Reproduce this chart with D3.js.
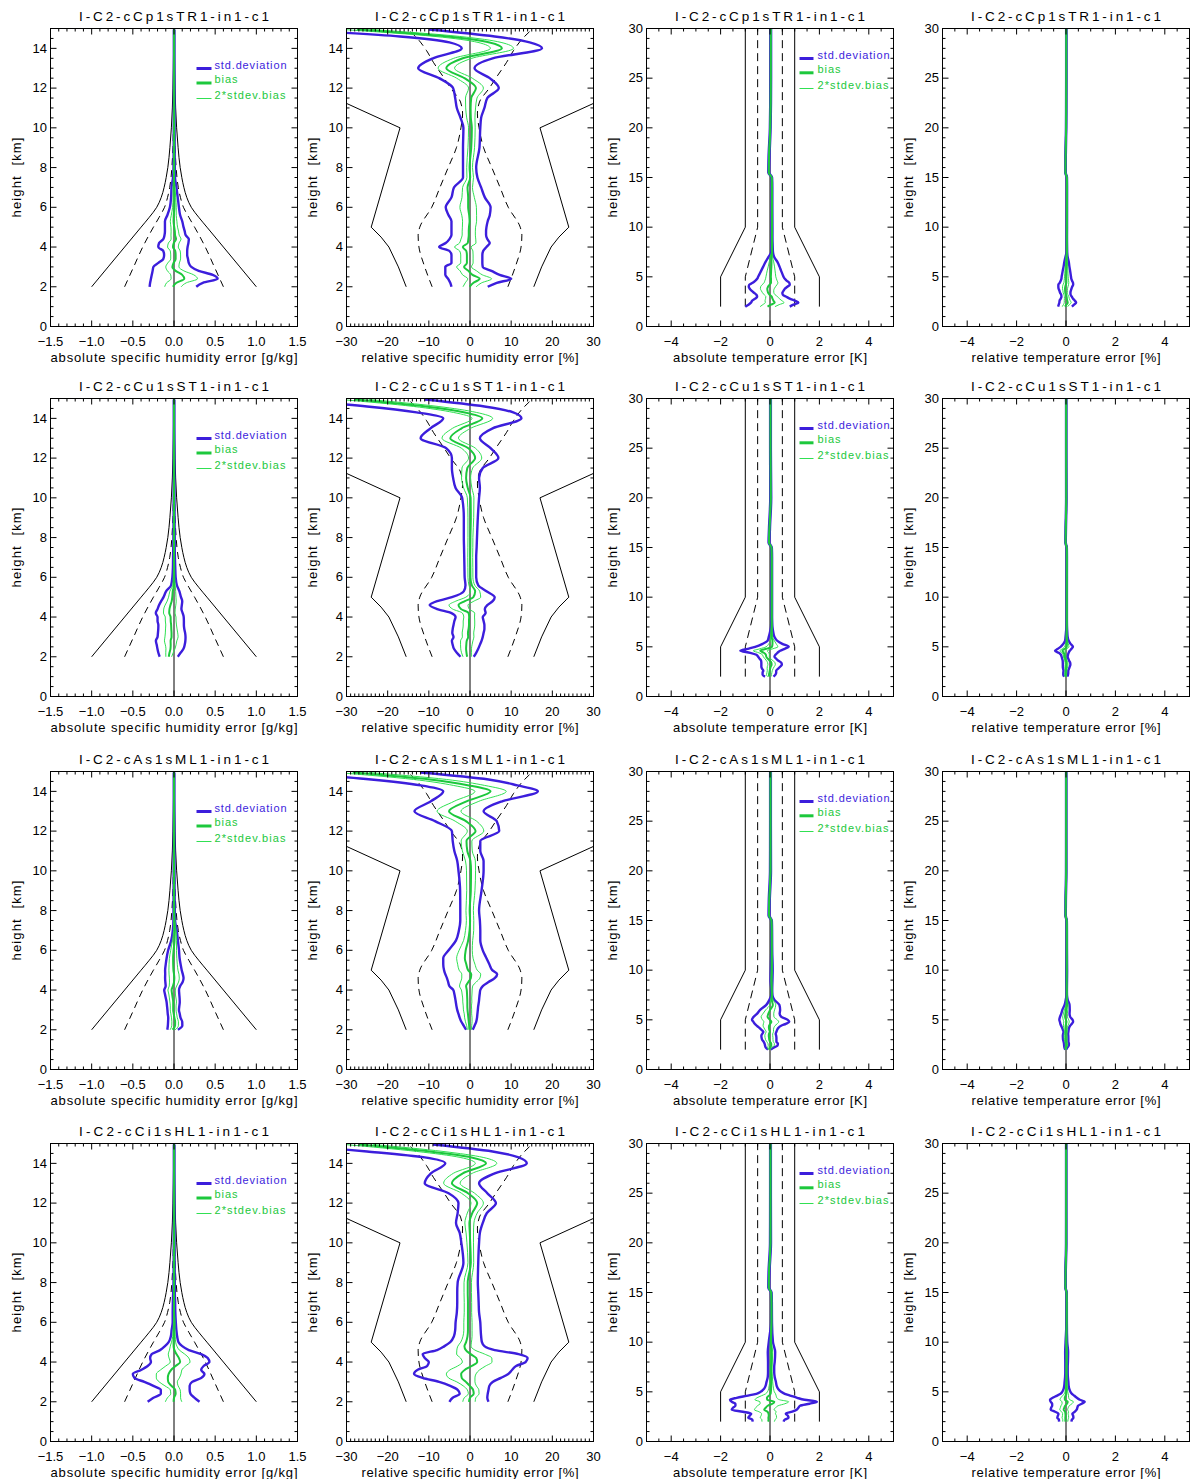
<!DOCTYPE html>
<html>
<head>
<meta charset="utf-8">
<script src="https://cdn.jsdelivr.net/npm/d3@7/dist/d3.min.js"></script>
<style>
html,body{margin:0;padding:0;background:#fff;}
svg{display:block;}
</style>
</head>
<body>
<svg id="chart" width="1190" height="1479"></svg>
<script>
// ================= categories / labels =================
const rowTitles = ["I-C2-cCp1sTR1-in1-c1","I-C2-cCu1sST1-in1-c1","I-C2-cAs1sML1-in1-c1","I-C2-cCi1sHL1-in1-c1"];
const xTitles = ["absolute specific humidity error [g/kg]","relative specific humidity error [%]","absolute temperature error [K]","relative temperature error [%]"];
const yTitle = "height  [km]";
const legendLabels = ["std.deviation","bias","2*stdev.bias"];

// ================= tick labels =================
const xTicksQabs = [-1.5,-1.0,-0.5,0,0.5,1.0,1.5];
const xTicksQrel = [-30,-20,-10,0,10,20,30];
const xTicksT = [-4,-2,0,2,4];
const yTicksQ = [0,2,4,6,8,10,12,14];
const yTicksT = [0,5,10,15,20,25,30];

// ================= height grids (km) =================
const HQ = [2.0,2.2,2.4,2.6,2.8,3.0,3.2,3.4,3.6,3.8,4.0,4.2,4.4,4.6,4.8,5.0,5.3,5.6,6.0,6.5,7.0,7.5,8.0,9.0,10.0,10.5,11.0,11.5,12.0,12.5,13.0,13.5,14.0,14.3,14.6,14.95];
const HT = [2.0,2.2,2.4,2.6,2.8,3.0,3.2,3.4,3.6,3.8,4.0,4.2,4.4,4.6,4.8,5.0,5.3,5.6,6.0,6.5,7.0,7.5,8.0,9.0,10.0,12.0,14.0,15.0,15.5,17.0,20.0,25.0,30.0];

// ================= reference (requirement) curves =================
const qAbsSolidH = [2,3,4,5,5.5,6,6.5,7,7.5,8,9,10,11,12,13,14,15];
const qAbsSolidX = [1.0,0.8,0.6,0.4,0.3,0.21,0.155,0.12,0.095,0.075,0.05,0.032,0.02,0.013,0.008,0.005,0.003];
const qAbsDashH = [2,3,4,5,5.5,6,6.5,7,7.5,8,9,10,11,12,15];
const qAbsDashX = [0.6,0.49,0.38,0.25,0.18,0.115,0.078,0.052,0.036,0.026,0.013,0.007,0.004,0.002,0.001];
const qRelSolidH = [2,3,4,4.5,5,10,11.23,12];
const qRelSolidX = [15.5,17.4,19.7,21.6,24,17,30,35.5];
const qRelDashH = [2,3,4,4.6,5,6,7,8,9,10,10.7,11.3,12,12.6,13.3,13.9,14.5,15];
const qRelDashX = [9.2,11.0,12.4,12.6,12.2,9.3,7.3,5.3,3.3,2.2,1.8,2.3,4.7,6.6,8.9,10.6,12.8,15.3];
const tAbsSolidH = [2,5,10,30];
const tAbsSolidX = [2,2,1,1];
const tAbsDashH = [2,5,10,30];
const tAbsDashX = [1,1,0.5,0.5];

// ================= row 1: cCp1sTR1 =================
const cpQabsBias = [-0.013,0.03,0.125,0.10,0.02,-0.02,-0.005,0.02,0.02,0.015,-0.013,-0.003,0.025,0.013,0.01,0.003,-0.005,-0.003,0.005,0.005,0,0,0.002,0.002,0.002,0.002,0.002,0.002,0.002,0.002,0.002,0.002,0.002,0.002,0.002,0.002];
const cpQabsStd = [0.283,0.32,0.405,0.37,0.28,0.23,0.185,0.15,0.14,0.145,0.178,0.178,0.155,0.128,0.12,0.113,0.105,0.078,0.055,0.04,0.03,0.012,0.008,0.006,0.005,0.005,0.004,0.004,0.004,0.004,0.004,0.004,0.004,0.004,0.004,0.004];
const cpQabsSdb2 = [0.10,0.12,0.16,0.14,0.10,0.08,0.07,0.06,0.06,0.06,0.065,0.065,0.06,0.05,0.045,0.04,0.04,0.03,0.022,0.016,0.012,0.005,0.003,0.003,0.002,0.002,0.002,0.002,0.002,0.002,0.002,0.002,0.002,0.002,0.002,0.002];
const cpQrelBias = [-0.1,0.85,2.35,0.6,-0.4,-1.45,-0.75,-0.75,-0.75,-0.9,-1.75,-0.55,-0.4,-0.3,-0.3,-0.25,-0.1,-0.2,-0.45,-0.45,-0.6,0.05,-0.1,0.3,0.45,0.2,0.15,0.3,1.45,-1.35,-5.75,-1.75,7.75,4.75,-5.5,-27.5];
const cpQrelStd = [4.4,5.65,7.65,6.6,5.6,4.55,3.75,3.75,3.75,4.1,5.75,5.35,4.6,4.2,4.2,4.25,4.4,5.0,5.45,4.05,3.3,1.75,1.6,2.0,2.05,2.5,3.35,3.9,5.55,6.15,6.85,7.25,9.75,9.75,11.5,17.5];
const cpQrelSdb2 = [1.6,2.0,2.9,2.4,2.0,1.8,1.5,1.5,1.5,1.6,2.0,2.0,1.8,1.6,1.6,1.6,1.7,1.8,2.0,1.5,1.2,0.8,0.7,0.8,0.8,1.0,1.2,1.4,1.8,1.9,2.0,2.2,2.8,2.8,3.0,3.5];
const cpTabsBias = [-0.1,0.04,0.19,0.14,0.1,0.07,-0.015,-0.075,-0.1,-0.11,-0.08,-0.02,0.04,0.04,0.04,0.035,0.04,0.045,0.055,0.06,0.055,0.085,0.085,0.08,0.08,0.08,0.08,0.07,-0.05,-0.04,0.01,0.03,0.03];
const cpTabsStd = [0.9,0.91,0.96,0.86,0.7,0.59,0.535,0.575,0.65,0.71,0.78,0.82,0.74,0.64,0.56,0.515,0.46,0.405,0.335,0.24,0.115,0.035,0.025,0.02,0.02,0.015,0.015,0.015,0.02,0.02,0.015,0.015,0.015];
const cpTabsSdb2 = [0.3,0.33,0.38,0.34,0.28,0.24,0.22,0.23,0.25,0.28,0.3,0.3,0.28,0.25,0.22,0.2,0.18,0.16,0.13,0.09,0.05,0.015,0.01,0.008,0.008,0.008,0.008,0.008,0.008,0.008,0.008,0.008,0.008];
const cpTrelBias = [-0.04,0.015,0.07,0.05,0.035,0.025,-0.005,-0.03,-0.035,-0.04,-0.03,-0.01,0.015,0.015,0.015,0.013,0.015,0.017,0.02,0.023,0.022,0.035,0.035,0.033,0.035,0.037,0.038,0.033,-0.022,-0.018,0.005,0.013,0.013];
const cpTrelStd = [0.28,0.31,0.34,0.31,0.25,0.21,0.19,0.21,0.23,0.26,0.28,0.3,0.27,0.23,0.2,0.19,0.17,0.15,0.12,0.09,0.045,0.014,0.01,0.008,0.008,0.007,0.007,0.007,0.009,0.009,0.007,0.007,0.007];
const cpTrelSdb2 = [0.11,0.12,0.14,0.12,0.1,0.09,0.08,0.085,0.09,0.1,0.11,0.11,0.1,0.09,0.08,0.075,0.065,0.06,0.05,0.035,0.02,0.006,0.004,0.004,0.004,0.004,0.004,0.004,0.004,0.004,0.004,0.004,0.004];

// ================= row 2: cCu1sST1 =================
const cuQabsBias = [-0.064,-0.055,-0.043,-0.04,-0.041,-0.03,-0.03,-0.033,-0.035,-0.04,-0.041,-0.058,-0.055,-0.043,-0.028,-0.021,-0.015,0,0,0.001,0,0,0.001,0.001,0.001,0.001,0.001,0.001,0.001,0.001,0.001,0.001,0.001,0.001,0.001,0.001];
const cuQabsStd = [0.11,0.135,0.158,0.17,0.179,0.17,0.165,0.158,0.155,0.16,0.159,0.163,0.145,0.138,0.128,0.106,0.08,0.035,0.02,0.014,0.011,0.009,0.008,0.006,0.005,0.005,0.004,0.004,0.004,0.004,0.004,0.004,0.004,0.004,0.004,0.004];
const cuQabsSdb2 = [0.035,0.045,0.055,0.065,0.075,0.08,0.075,0.07,0.065,0.065,0.065,0.07,0.07,0.065,0.055,0.045,0.035,0.015,0.008,0.006,0.005,0.004,0.003,0.003,0.003,0.002,0.002,0.002,0.002,0.002,0.002,0.002,0.002,0.002,0.002,0.002];
const cuQrelBias = [-0.7,-0.85,-0.95,-0.9,-0.8,-0.45,-0.5,-0.35,-0.25,-0.25,-0.2,-0.35,-2.2,-2.8,-1.25,0.8,1.25,0.45,0.1,0.08,0.05,0.08,0.1,0.2,0.15,-0.55,-0.95,-0.65,1.25,-0.4,-4.8,-2.05,3.0,-1.25,-10.75,-28];
const cuQrelStd = [1.6,2.35,2.95,3.3,3.6,3.55,3.8,3.85,3.75,3.55,3.3,4.15,5.8,7.0,6.75,5.2,2.75,1.55,1.4,1.43,1.45,1.53,1.6,1.7,2.05,2.95,3.15,3.75,5.65,5.4,7.2,7.55,9.5,11.75,14.25,17];
const cuQrelSdb2 = [1.0,1.2,1.3,1.4,1.5,1.4,1.4,1.4,1.4,1.4,1.3,1.5,2.0,2.3,2.2,1.8,1.1,0.7,0.6,0.6,0.6,0.6,0.6,0.7,0.8,1.0,1.1,1.3,1.6,1.7,2.0,2.2,2.5,2.8,3.0,3.5];
const cuTabsBias = [-0.03,-0.04,-0.025,-0.01,0.005,0.03,0.065,0.055,-0.01,-0.085,-0.15,-0.165,-0.25,-0.395,-0.15,0.08,0.1,0.1,0.065,0.065,0.07,0.07,0.07,0.07,0.07,0.07,0.07,0.06,-0.04,-0.02,0.03,0.02,0.02];
const cuTabsStd = [0.17,0.26,0.275,0.26,0.325,0.38,0.415,0.405,0.35,0.335,0.33,0.385,0.55,0.805,0.75,0.68,0.4,0.2,0.115,0.065,0.03,0.02,0.015,0.015,0.015,0.015,0.015,0.015,0.02,0.02,0.02,0.015,0.015];
const cuTabsSdb2 = [0.07,0.1,0.1,0.1,0.12,0.14,0.15,0.15,0.13,0.12,0.12,0.14,0.2,0.28,0.26,0.24,0.15,0.08,0.04,0.025,0.012,0.008,0.006,0.006,0.006,0.006,0.006,0.006,0.006,0.006,0.006,0.006,0.006];
const cuTrelBias = [-0.011,-0.015,-0.009,-0.004,0.002,0.011,0.024,0.02,-0.004,-0.031,-0.055,-0.061,-0.092,-0.146,-0.055,0.03,0.037,0.037,0.024,0.026,0.03,0.03,0.03,0.03,0.03,0.031,0.032,0.027,-0.018,-0.009,0.013,0.009,0.009];
const cuTrelStd = [0.063,0.096,0.1,0.096,0.12,0.14,0.153,0.15,0.13,0.124,0.122,0.142,0.2,0.298,0.278,0.25,0.148,0.074,0.043,0.026,0.012,0.008,0.007,0.007,0.007,0.007,0.007,0.007,0.009,0.009,0.009,0.007,0.007];
const cuTrelSdb2 = [0.026,0.037,0.037,0.037,0.044,0.052,0.055,0.055,0.048,0.044,0.044,0.052,0.074,0.1,0.096,0.089,0.055,0.03,0.015,0.009,0.005,0.004,0.003,0.003,0.003,0.003,0.003,0.003,0.003,0.003,0.003,0.003,0.003];

// ================= row 3: cAs1sML1 =================
const asQabsBias = [-0.017,0.013,0.014,0.005,-0.003,-0.01,-0.01,-0.01,-0.016,-0.023,-0.029,-0.013,0,0.004,0,-0.007,-0.01,-0.011,-0.005,0.007,0.01,0.003,0.002,0.001,0.001,0.001,0.001,0.001,0.001,0.001,0.001,0.001,0.001,0.001,0.001,0.001];
const asQabsStd = [0.064,0.088,0.086,0.075,0.073,0.07,0.075,0.08,0.084,0.087,0.09,0.088,0.105,0.112,0.107,0.101,0.09,0.079,0.066,0.04,0.024,0.01,0.008,0.006,0.005,0.005,0.004,0.004,0.004,0.004,0.004,0.004,0.004,0.004,0.004,0.004];
const asQabsSdb2 = [0.03,0.04,0.04,0.035,0.035,0.035,0.035,0.04,0.04,0.04,0.045,0.045,0.055,0.06,0.06,0.055,0.05,0.045,0.035,0.025,0.015,0.006,0.005,0.004,0.003,0.003,0.002,0.002,0.002,0.002,0.002,0.002,0.002,0.002,0.002,0.002];
const asQrelBias = [-0.14,-0.2,-0.3,-0.4,-0.5,-0.6,-0.65,-0.65,-0.68,-0.72,-0.78,-0.95,-0.4,0.2,0.3,-0.45,-0.9,-1.25,-1.05,-0.45,-0.1,0.02,-0.08,0.2,0.25,0.1,-0.65,-0.85,1.35,-1.0,-5.1,-0.85,5.0,-0.25,-9.75,-28.5];
const asQrelStd = [0.8,1.3,1.8,2.1,2.3,2.5,2.65,2.8,2.93,3.08,3.28,4.05,4.9,5.8,6.3,5.85,5.6,5.25,4.15,2.95,2.6,2.38,2.28,2.6,3.05,3.2,3.15,3.35,5.75,7.5,8.4,8.65,11.5,11.75,14.25,16.5];
const asQrelSdb2 = [0.5,0.6,0.8,0.9,0.9,1.0,1.0,1.1,1.1,1.2,1.3,1.6,1.9,2.2,2.3,2.2,2.1,2.0,1.6,1.1,1.0,0.9,0.9,1.0,1.1,1.2,1.2,1.3,2.0,2.6,2.9,3.0,3.8,3.8,4.0,4.0];
const asTabsBias = [-0.025,-0.015,0.05,0.05,0,-0.03,-0.04,-0.05,-0.04,-0.005,-0.03,-0.045,-0.04,0.01,0.055,-0.005,-0.1,-0.07,0.005,0.115,0.075,0.075,0.07,0.06,0.07,0.07,0.07,0.06,-0.04,-0.03,0.02,0.02,0.02];
const asTabsStd = [0.055,0.155,0.25,0.27,0.26,0.29,0.3,0.3,0.27,0.265,0.32,0.385,0.49,0.63,0.725,0.725,0.56,0.46,0.405,0.265,0.105,0.025,0.02,0.04,0.04,0.02,0.015,0.015,0.02,0.02,0.02,0.015,0.015];
const asTabsSdb2 = [0.04,0.08,0.12,0.13,0.13,0.15,0.16,0.16,0.15,0.15,0.17,0.2,0.24,0.28,0.3,0.3,0.26,0.22,0.18,0.12,0.05,0.012,0.01,0.015,0.015,0.008,0.008,0.008,0.008,0.008,0.008,0.008,0.008];
const asTrelBias = [-0.009,-0.006,0.018,0.018,0,-0.011,-0.015,-0.018,-0.015,-0.002,-0.011,-0.017,-0.015,0.004,0.02,-0.002,-0.037,-0.026,0.002,0.043,0.03,0.03,0.03,0.026,0.03,0.031,0.032,0.027,-0.018,-0.013,0.009,0.009,0.009];
const asTrelStd = [0.02,0.057,0.093,0.1,0.096,0.107,0.11,0.11,0.1,0.098,0.118,0.142,0.181,0.233,0.268,0.268,0.207,0.17,0.15,0.1,0.042,0.01,0.008,0.016,0.016,0.009,0.007,0.007,0.009,0.009,0.009,0.007,0.007];
const asTrelSdb2 = [0.015,0.03,0.044,0.048,0.048,0.055,0.06,0.06,0.055,0.055,0.063,0.074,0.089,0.104,0.111,0.111,0.096,0.081,0.067,0.044,0.02,0.005,0.004,0.006,0.006,0.003,0.003,0.003,0.003,0.003,0.003,0.003,0.003];

// ================= row 4: cCi1sHL1 =================
const ciQabsBias = [-0.005,0,0.02,0.015,-0.03,-0.07,-0.075,-0.065,-0.035,0.02,0.075,0.06,0.03,0.005,-0.005,-0.005,0,0,0.003,0,0,0,0.002,0.002,0.002,0.002,0.002,0.002,0.002,0.002,0.002,0.002,0.002,0.002,0.002,0.002];
const ciQabsStd = [0.315,0.25,0.18,0.175,0.22,0.29,0.405,0.435,0.365,0.34,0.355,0.35,0.3,0.175,0.105,0.06,0.038,0.029,0.019,0.016,0.014,0.01,0.008,0.006,0.005,0.005,0.004,0.004,0.004,0.004,0.004,0.004,0.004,0.004,0.004,0.004];
const ciQabsSdb2 = [0.1,0.08,0.06,0.06,0.08,0.11,0.14,0.15,0.13,0.12,0.12,0.12,0.1,0.06,0.04,0.025,0.015,0.012,0.008,0.006,0.005,0.004,0.003,0.003,0.003,0.002,0.002,0.002,0.002,0.002,0.002,0.002,0.002,0.002,0.002,0.002];
const ciQrelBias = [-0.25,0,0.9,0.75,-0.05,-1.0,-2.0,-2.15,-1.3,0.4,1.75,1.5,0.15,-1.0,-1.35,-0.95,-0.6,-0.5,-0.5,-0.5,-0.5,-0.55,-0.55,0.2,0.05,-0.05,-0.15,0.55,1.75,-0.5,-4.4,-1.75,3.9,0.4,-9.75,-27];
const ciQrelStd = [4.75,4.2,3.4,3.75,4.75,6.5,9.5,11.45,11.5,10.8,11.75,12.5,11.65,7.0,4.85,3.85,3.3,3.1,3.0,2.7,2.6,2.55,2.45,1.8,2.15,2.45,3.25,3.55,4.55,4.7,6.6,7.75,9.9,11.4,15.25,18];
const ciQrelSdb2 = [1.5,1.4,1.3,1.4,1.6,2.2,3.2,3.6,3.6,3.4,3.6,3.8,3.4,2.2,1.6,1.3,1.1,1.0,1.0,0.9,0.9,0.9,0.9,0.7,0.8,0.9,1.1,1.2,1.5,1.6,2.0,2.3,2.6,2.8,3.2,3.5];
const ciTabsBias = [-0.075,-0.06,-0.065,-0.05,-0.06,-0.1,-0.235,-0.175,-0.09,0.1,0.175,-0.11,-0.125,-0.05,0.025,0.035,0.045,0.045,0.05,0.05,0.045,0.045,0.055,0.06,0.035,0.06,0.06,0.05,-0.05,-0.04,0.02,0.02,0.02];
const ciTabsStd = [0.625,0.66,0.815,0.77,0.7,1.0,1.315,1.325,1.31,1.5,1.725,1.51,1.225,0.9,0.575,0.415,0.285,0.225,0.19,0.14,0.125,0.125,0.135,0.15,0.085,0.02,0.015,0.015,0.02,0.02,0.02,0.015,0.015];
const ciTabsSdb2 = [0.25,0.27,0.33,0.31,0.28,0.35,0.4,0.4,0.42,0.5,0.58,0.5,0.4,0.3,0.2,0.14,0.1,0.08,0.06,0.045,0.04,0.04,0.04,0.05,0.03,0.008,0.008,0.008,0.008,0.008,0.008,0.008,0.008];
const ciTrelBias = [-0.03,-0.024,-0.026,-0.02,-0.024,-0.04,-0.094,-0.07,-0.036,0.04,0.07,-0.044,-0.05,-0.02,0.01,0.014,0.018,0.018,0.02,0.02,0.02,0.02,0.024,0.026,0.016,0.026,0.027,0.022,-0.022,-0.018,0.009,0.009,0.009];
const ciTrelStd = [0.25,0.264,0.326,0.308,0.28,0.4,0.526,0.53,0.524,0.6,0.69,0.604,0.49,0.36,0.23,0.166,0.114,0.09,0.076,0.056,0.05,0.05,0.054,0.06,0.034,0.009,0.007,0.007,0.009,0.009,0.009,0.007,0.007];
const ciTrelSdb2 = [0.1,0.108,0.132,0.124,0.112,0.14,0.16,0.16,0.168,0.2,0.232,0.2,0.16,0.12,0.08,0.056,0.04,0.032,0.024,0.018,0.016,0.016,0.016,0.02,0.012,0.004,0.004,0.004,0.004,0.004,0.004,0.004,0.004];

// ================= assembly =================
const series = [
  [[cpQabsBias,cpQabsStd,cpQabsSdb2],[cpQrelBias,cpQrelStd,cpQrelSdb2],[cpTabsBias,cpTabsStd,cpTabsSdb2],[cpTrelBias,cpTrelStd,cpTrelSdb2]],
  [[cuQabsBias,cuQabsStd,cuQabsSdb2],[cuQrelBias,cuQrelStd,cuQrelSdb2],[cuTabsBias,cuTabsStd,cuTabsSdb2],[cuTrelBias,cuTrelStd,cuTrelSdb2]],
  [[asQabsBias,asQabsStd,asQabsSdb2],[asQrelBias,asQrelStd,asQrelSdb2],[asTabsBias,asTabsStd,asTabsSdb2],[asTrelBias,asTrelStd,asTrelSdb2]],
  [[ciQabsBias,ciQabsStd,ciQabsSdb2],[ciQrelBias,ciQrelStd,ciQrelSdb2],[ciTabsBias,ciTabsStd,ciTabsSdb2],[ciTrelBias,ciTrelStd,ciTrelSdb2]]
];

const FONT = "'Liberation Sans', Arial, Helvetica, sans-serif";
const BLUE = "#3c1edc", GREEN = "#1cc83c", GREEN_THIN = "#30e052";
const X0 = [50.5, 346.5, 646.5, 942.5], W = 247;
const T0 = [28.5, 398.5, 771.5, 1143.5], H = 298;
const xTitleLen = [247, 217, 194, 189];

const cols = [
  {dom:[-1.5,1.5], xt:xTicksQabs, xminor:0.1, fmt:d3.format(".1f"), ymax:15, yt:yTicksQ, yminor:0.5, h:HQ,
   refs:[{h:qAbsSolidH,x:qAbsSolidX,dash:null,curve:d3.curveMonotoneY},{h:qAbsDashH,x:qAbsDashX,dash:"7,5",curve:d3.curveMonotoneY}],
   legend:{dx:146,len:15,dy:[40,54.5,70],tx:164}},
  {dom:[-30,30], xt:xTicksQrel, xminor:1, fmt:d3.format("d"), ymax:15, yt:yTicksQ, yminor:0.5, h:HQ,
   refs:[{h:qRelSolidH,x:qRelSolidX,dash:null,curve:d3.curveLinear},{h:qRelDashH,x:qRelDashX,dash:"7,5",curve:d3.curveMonotoneY}],
   legend:null},
  {dom:[-5,5], xt:xTicksT, xminor:0.5, fmt:d3.format("d"), ymax:30, yt:yTicksT, yminor:1, h:HT,
   refs:[{h:tAbsSolidH,x:tAbsSolidX,dash:null,curve:d3.curveLinear},{h:tAbsDashH,x:tAbsDashX,dash:"8,5",curve:d3.curveLinear}],
   legend:{dx:153,len:14,dy:[30,44.3,60],tx:171}},
  {dom:[-5,5], xt:xTicksT, xminor:0.5, fmt:d3.format("d"), ymax:30, yt:yTicksT, yminor:1, h:HT,
   refs:[], legend:null}
];

const svg = d3.select("#chart");
const defs = svg.append("defs");

function minorTicks(lo, hi, step, majors) {
  const n0 = Math.round(lo/step), n1 = Math.round(hi/step);
  return d3.range(n0, n1+1).map(i => +(i*step).toFixed(4)).filter(v => !majors.some(m => Math.abs(m-v) < 1e-6));
}
function styleAxis(sel) {
  sel.select(".domain").remove();
  sel.attr("font-family", FONT).attr("font-size", 13);
  sel.selectAll(".tick line").attr("stroke", "#000").attr("stroke-width", 1);
  sel.selectAll(".tick text").attr("fill", "#000");
}
function noText(sel) { sel.selectAll(".tick text").remove(); }

rowTitles.forEach((title, r) => {
  cols.forEach((c, ci) => {
    const x0 = X0[ci], T = T0[r];
    const x = d3.scaleLinear().domain(c.dom).range([x0, x0 + W]);
    const y = d3.scaleLinear().domain([0, c.ymax]).range([T + H, T]);
    const g = svg.append("g");
    const clipId = `clip-${r}-${ci}`;
    defs.append("clipPath").attr("id", clipId).append("rect")
      .attr("x", x0).attr("y", T).attr("width", W).attr("height", H);
    const pg = g.append("g").attr("clip-path", `url(#${clipId})`);

    // reference requirement lines (symmetric)
    c.refs.forEach(ref => {
      [-1, 1].forEach(sgn => {
        const gen = d3.line().x((d, i) => x(sgn * ref.x[i])).y(d => y(d)).curve(ref.curve);
        pg.append("path").attr("d", gen(ref.h)).attr("fill", "none")
          .attr("stroke", "#000").attr("stroke-width", 1)
          .attr("stroke-dasharray", ref.dash);
      });
    });

    // zero line
    pg.append("line").attr("x1", x(0)).attr("x2", x(0)).attr("y1", y(0)).attr("y2", y(c.ymax))
      .attr("stroke", "#000").attr("stroke-width", 1);

    // data
    const [bias, std, sdb2] = series[r][ci];
    const hh = c.h;
    const mk = f => d3.line()
      .defined((d, i) => Number.isFinite(f(i)))
      .x((d, i) => x(f(i))).y(d => y(d)).curve(d3.curveMonotoneY)(hh);
    const draw = (f, col, w) => pg.append("path").attr("d", mk(f)).attr("fill", "none")
      .attr("stroke", col).attr("stroke-width", w).attr("stroke-linejoin", "round");
    draw(i => bias[i] - std[i], BLUE, 2.4);
    draw(i => bias[i] + std[i], BLUE, 2.4);
    draw(i => bias[i] - sdb2[i], GREEN_THIN, 1);
    draw(i => bias[i] + sdb2[i], GREEN_THIN, 1);
    draw(i => bias[i], GREEN, 2);

    // frame
    g.append("rect").attr("x", x0).attr("y", T).attr("width", W).attr("height", H)
      .attr("fill", "none").attr("stroke", "#000").attr("stroke-width", 1);

    // axes (ticks inside, on all four sides)
    const xm = minorTicks(c.dom[0], c.dom[1], c.xminor, c.xt);
    const ym = minorTicks(0, c.ymax, c.yminor, c.yt);
    g.append("g").attr("transform", `translate(0,${T + H})`)
      .call(d3.axisBottom(x).tickValues(c.xt).tickSize(-6).tickPadding(10).tickFormat(c.fmt).offset(0)).call(styleAxis);
    g.append("g").attr("transform", `translate(0,${T + H})`)
      .call(d3.axisBottom(x).tickValues(xm).tickSize(-3).offset(0)).call(styleAxis).call(noText);
    g.append("g").attr("transform", `translate(0,${T})`)
      .call(d3.axisTop(x).tickValues(c.xt).tickSize(-6).offset(0)).call(styleAxis).call(noText);
    g.append("g").attr("transform", `translate(0,${T})`)
      .call(d3.axisTop(x).tickValues(xm).tickSize(-3).offset(0)).call(styleAxis).call(noText);
    g.append("g").attr("transform", `translate(${x0},0)`)
      .call(d3.axisLeft(y).tickValues(c.yt).tickSize(-6).tickPadding(3.5).tickFormat(d3.format("d")).offset(0)).call(styleAxis);
    g.append("g").attr("transform", `translate(${x0},0)`)
      .call(d3.axisLeft(y).tickValues(ym).tickSize(-3).offset(0)).call(styleAxis).call(noText);
    g.append("g").attr("transform", `translate(${x0 + W},0)`)
      .call(d3.axisRight(y).tickValues(c.yt).tickSize(-6).offset(0)).call(styleAxis).call(noText);
    g.append("g").attr("transform", `translate(${x0 + W},0)`)
      .call(d3.axisRight(y).tickValues(ym).tickSize(-3).offset(0)).call(styleAxis).call(noText);

    // titles
    g.append("text").attr("x", x0 + W / 2).attr("y", T - 7.5).attr("text-anchor", "middle")
      .attr("font-family", FONT).attr("font-size", 13.5).attr("textLength", 190).attr("lengthAdjust", "spacing")
      .text(title);
    g.append("text").attr("x", x0 + W / 2).attr("y", T + H + 35).attr("text-anchor", "middle")
      .attr("font-family", FONT).attr("font-size", 13).attr("textLength", xTitleLen[ci]).attr("lengthAdjust", "spacing")
      .text(xTitles[ci]);
    g.append("text").attr("transform", `translate(${x0 - 29.8},${T + H / 2}) rotate(-90)`)
      .attr("text-anchor", "middle").attr("font-family", FONT).attr("font-size", 13)
      .style("white-space", "pre").attr("textLength", 80).attr("lengthAdjust", "spacing")
      .text(yTitle);

    // legend
    if (c.legend) {
      const L = c.legend;
      const sty = [{col: BLUE, w: 3, tc: BLUE, tl: 72}, {col: GREEN, w: 3, tc: GREEN, tl: 23}, {col: GREEN_THIN, w: 1, tc: GREEN, tl: 71}];
      legendLabels.forEach((lab, k) => {
        const yy = T + L.dy[k];
        g.append("line").attr("x1", x0 + L.dx).attr("x2", x0 + L.dx + L.len).attr("y1", yy).attr("y2", yy)
          .attr("stroke", sty[k].col).attr("stroke-width", sty[k].w);
        g.append("text").attr("x", x0 + L.tx).attr("y", yy).attr("fill", sty[k].tc)
          .attr("font-family", FONT).attr("font-size", 11)
          .attr("textLength", sty[k].tl).attr("lengthAdjust", "spacing").text(lab);
      });
    }
  });
});
</script>
</body>
</html>
